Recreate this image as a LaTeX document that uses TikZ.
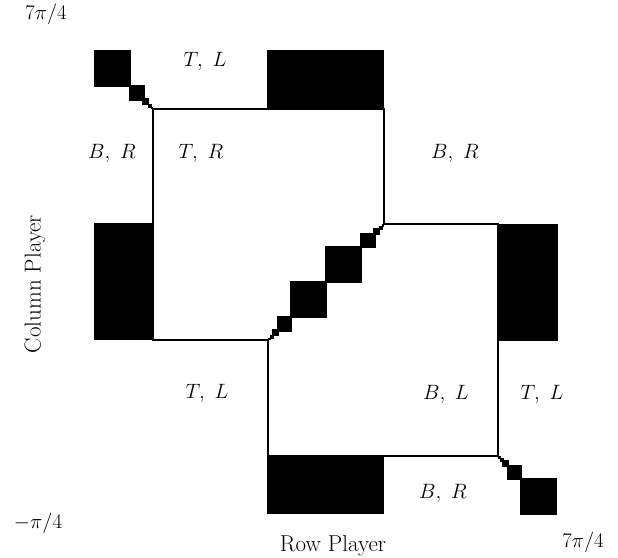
\documentclass[tikz,border=0pt]{standalone}
\usetikzlibrary{calc}
\tikzset{
  region/.style={fill=black},
  border/.style={line width=1.4pt, line join=miter},
  lbl/.style={font=\fontsize{21}{24}\selectfont, inner sep=0pt},
  axislbl/.style={font=\fontsize{23}{26}\selectfont, inner sep=0pt},
}
% squares along a diagonal, starting at corner #1, heading in direction (#2,#3)
\newcommand\stairsteps[3]{%
  \foreach \a/\b in {0/2.5,1.5/5.5,4/11,8.5/24,22/59}{%
    \fill ($(#1)+(#2*\a,#3*\a)$) rectangle ($(#1)+(#2*\b,#3*\b)$);
  }%
}
\begin{document}
\begin{tikzpicture}[x=1pt, y=-1pt]
  \useasboundingbox (0,0) rectangle (618,557);

  % corners of the two best-response squares
  \coordinate (A) at (153,109);
  \coordinate (B) at (384,109);
  \coordinate (C) at (384,224);
  \coordinate (D) at (498,224);
  \coordinate (E) at (498,456);
  \coordinate (F) at (268,456);
  \coordinate (G) at (268,340);
  \coordinate (H) at (153,340);

  % solid regions
  \fill[region] (267,50) rectangle (B);
  \fill[region] (94,223) rectangle (H);
  \fill[region] (D) rectangle (558,341);
  \fill[region] (267,456) rectangle (384,514);

  % staircases along the diagonal
  \stairsteps{A}{-1}{-1}
  \stairsteps{G}{1}{-1}
  \stairsteps{C}{-1}{1}
  \stairsteps{E}{1}{1}

  % boundary lines
  \draw[border] (A) -- (B) -- (C) -- (D) -- (E) -- (F) -- (G) -- (H) -- cycle;

  % region labels
  \node[lbl] (l1) at (205,61)  {$T,\ L$};
  \node[lbl] (l2) at (112,153) {$B,\ R$};
  \node[lbl] (l3) at (201,153) {$T,\ R$};
  \node[lbl] (l4) at (455,153) {$B,\ R$};
  \node[lbl] (l5) at (207,393) {$T,\ L$};
  \node[lbl] (l6) at (446,394) {$B,\ L$};
  \node[lbl] (l7) at (542,394) {$T,\ L$};
  \node[lbl] (l8) at (443,493) {$B,\ R$};

  % axes
  \node[lbl] (ytop) at (46,14)  {$7\pi/4$};
  \node[lbl] (orig) at (38,523) {$-\pi/4$};
  \node[lbl] (xend) at (583,542) {$7\pi/4$};
  \node[axislbl] (xlab) at (333,546) {Row Player};
  \node[axislbl, rotate=90] (ylab) at (35,284) {Column Player};
\end{tikzpicture}
\end{document}
